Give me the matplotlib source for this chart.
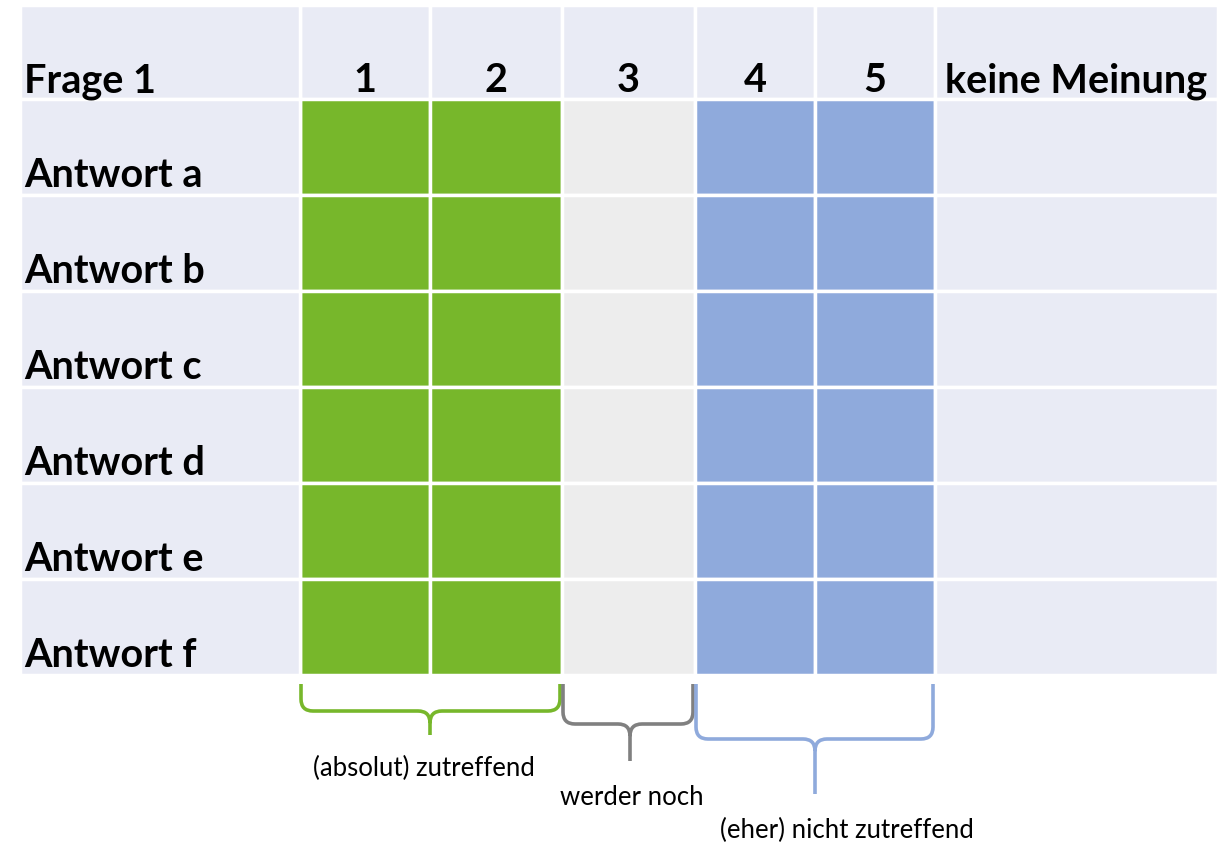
import numpy as np
import matplotlib.pyplot as plt
from matplotlib.path import Path
from matplotlib.patches import PathPatch

# table content
header = "Frage 1"
columns = ["1", "2", "3", "4", "5", "keine Meinung"]
rows = ["Antwort a", "Antwort b", "Antwort c", "Antwort d", "Antwort e", "Antwort f"]
col_colors = ["#77B72B", "#77B72B", "#EDEDED", "#8FAADC", "#8FAADC", "#E9EBF5"]

# braces under the scale: label, first column, last column
groups = ["(absolut) zutreffend", "werder noch", "(eher) nicht zutreffend"]
group_first = [0, 2, 3]
group_last = [1, 2, 4]
group_colors = ["#77B72B", "#808080", "#8FAADC"]

# layout in pixels
BG = "#E9EBF5"
col_edges = np.array([300, 430, 562, 695, 815, 935, 1218])
label_left = 20
row_top = 6
header_h = 94
row_h = 96

fig = plt.figure(figsize=(12.25, 8.45), dpi=100)
ax = fig.add_axes([0, 0, 1, 1])
ax.set_xlim(0, 1225)
ax.set_ylim(845, 0)
ax.axis("off")

widths = np.diff(col_edges)
n_rows = len(rows)
big = dict(fontsize=28.5, fontweight="bold", family="Lato", va="baseline")

# header row
ax.barh(row_top + header_h / 2, widths, left=col_edges[:-1], height=header_h,
        color=BG, edgecolor="white", linewidth=2.5)
ax.barh(row_top + header_h / 2, col_edges[0] - label_left, left=label_left,
        height=header_h, color=BG, edgecolor="white", linewidth=2.5)
ax.text(label_left + 4, row_top + header_h - 8, header, ha="left", **big)
for j, c in enumerate(columns):
    ax.text((col_edges[j] + col_edges[j + 1]) / 2, row_top + header_h - 8, c,
            ha="center", **big)

# answer rows
for i, r in enumerate(rows):
    yc = row_top + header_h + row_h * i + row_h / 2
    ax.barh(yc, widths, left=col_edges[:-1], height=row_h, color=col_colors,
            edgecolor="white", linewidth=2.5)
    ax.barh(yc, col_edges[0] - label_left, left=label_left, height=row_h,
            color=BG, edgecolor="white", linewidth=2.5)
    ax.text(label_left + 4, yc + row_h / 2 - 9, r, ha="left", **big)


def brace(x0, x1, ytop, ymid, ytip, xc, r=12):
    verts = [(x0, ytop), (x0, ymid - r), (x0, ymid), (x0 + r, ymid),
             (xc - r, ymid), (xc, ymid), (xc, ymid + r), (xc, ytip),
             (xc, ymid + r), (xc, ymid), (xc + r, ymid),
             (x1 - r, ymid), (x1, ymid), (x1, ymid - r), (x1, ytop)]
    codes = [Path.MOVETO, Path.LINETO, Path.CURVE3, Path.CURVE3,
             Path.LINETO, Path.CURVE3, Path.CURVE3, Path.LINETO,
             Path.MOVETO, Path.CURVE3, Path.CURVE3,
             Path.LINETO, Path.CURVE3, Path.CURVE3, Path.LINETO]
    return Path(verts, codes)


table_bottom = row_top + header_h + row_h * n_rows
mids = [712, 725, 740]
tips = [736, 762, 795]
label_y = [768, 798, 830]
centers = [430, 630, 815]
label_x = [424, 632, 847]
for k, g in enumerate(groups):
    x0 = col_edges[group_first[k]] + 1
    x1 = col_edges[group_last[k] + 1] - 2
    p = brace(x0, x1, table_bottom + 9, mids[k], tips[k], centers[k])
    ax.add_patch(PathPatch(p, facecolor="none", edgecolor=group_colors[k],
                           linewidth=2.6, capstyle="butt"))
    ax.text(label_x[k], label_y[k], g, fontsize=18.5, family="Lato",
            ha="center", va="center")

fig.savefig("out.png", dpi=100)
